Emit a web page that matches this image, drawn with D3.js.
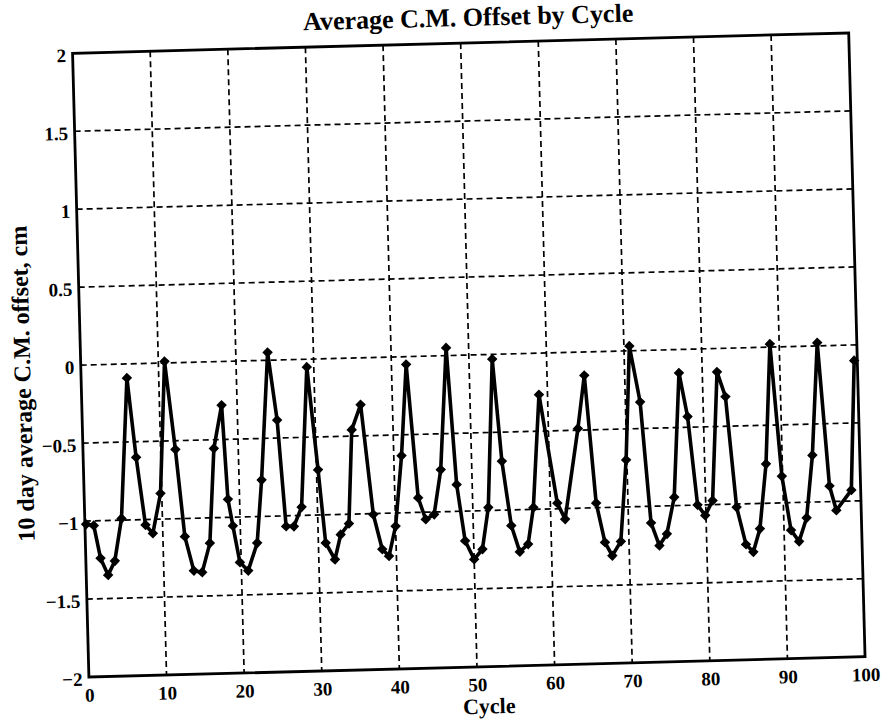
<!DOCTYPE html>
<html>
<head>
<meta charset="utf-8">
<script src="https://cdn.jsdelivr.net/npm/d3@7"></script>
<style>
  html, body { margin: 0; padding: 0; background: #fff; }
  svg { display: block; }
  text { font-family: "Liberation Serif", "DejaVu Serif", serif; fill: #000; }
</style>
</head>
<body>
<svg id="chart" width="887" height="728"></svg>
<script>
// ---- data ----
const cycles = [0.15,1.14,1.9,2.82,3.73,4.73,5.9,6.82,7.8,8.72,
  9.84,10.8,11.9,12.83,13.87,14.94,16.03,16.86,18.0,18.5,
  19.05,19.83,20.87,22.12,22.9,24.1,25.1,25.9,26.9,27.96,
  29.1,30.2,30.94,32.08,32.9,34.0,34.67,35.9,37.17,38.2,
  39.05,40.0,41.0,41.9,43.0,43.9,45.0,46.0,47.1,48.0,
  48.9,50.0,51.1,52.0,53.0,53.9,54.9,55.9,57.0,57.8,
  58.9,60.9,61.85,63.8,64.8,65.9,66.9,67.8,68.95,69.9,
  70.7,71.9,72.9,73.9,74.9,75.97,77.0,77.96,78.95,79.9,
  80.9,81.9,82.9,83.97,85.05,85.97,86.9,87.9,88.8,89.9,
  90.9,91.9,92.95,93.9,94.9,96.0,96.8,98.8,99.6];
const offsets = [-1.02,-1.03,-1.24,-1.35,-1.26,-0.99,-0.09,-0.60,-1.035,-1.09,
  -0.835,0.01,-0.556,-1.116,-1.336,-1.348,-1.162,-0.556,-0.28,-0.884,
  -1.055,-1.29,-1.345,-1.169,-0.766,0.05,-0.385,-1.067,-1.069,-0.946,
  -0.05,-0.71,-1.18,-1.288,-1.129,-1.06,-0.46,-0.30,-1.006,-1.23,
  -1.275,-1.085,-0.634,-0.05,-0.907,-1.046,-1.016,-0.73,0.05,-0.828,
  -1.19,-1.31,-1.247,-0.98,-0.03,-0.686,-1.10,-1.27,-1.222,-0.988,
  -0.266,-0.964,-1.068,-0.49,-0.15,-0.97,-1.223,-1.31,-1.22,-0.699,
  0.03,-0.33,-1.107,-1.253,-1.18,-0.946,-0.15,-0.431,-0.999,-1.068,
  -0.974,-0.15,-0.31,-1.02,-1.26,-1.31,-1.162,-0.748,0.02,-0.829,
  -1.177,-1.25,-1.10,-0.70,0.02,-0.90,-1.057,-0.93,-0.10];
const xTicks = [0,10,20,30,40,50,60,70,80,90,100];
const yTicks = [-2,-1.5,-1,-0.5,0,0.5,1,1.5,2];
const titleText = "Average C.M. Offset by Cycle";
const xLabelText = "Cycle";
const yLabelText = "10 day average C.M. offset, cm";

// ---- layout ----
const L = 80.6, R = 857, T = 43, B = 667;
const svg = d3.select("#chart");
const g = svg.append("g").attr("transform", "rotate(-1.5, 468.75, 354.9)");

const x = d3.scaleLinear().domain([0, 100]).range([L, R]);
const y = d3.scaleLinear().domain([-2, 2]).range([B, T]);

// grid
const grid = g.append("g").attr("stroke", "#000").attr("stroke-width", 1.7)
  .attr("stroke-dasharray", "6,4").attr("fill", "none");
grid.selectAll("line.v").data(xTicks.filter(d => d > 0 && d < 100)).join("line")
  .attr("class", "v")
  .attr("x1", d => x(d)).attr("x2", d => x(d)).attr("y1", T).attr("y2", B);
grid.selectAll("line.h").data(yTicks.filter(d => d > -2 && d < 2)).join("line")
  .attr("class", "h")
  .attr("x1", L).attr("x2", R).attr("y1", d => y(d)).attr("y2", d => y(d));

// axes (labels)
const fmt = d => (d < 0 ? "\u2212" : "") + String(Math.abs(d));
const xAxis = g.append("g").attr("transform", `translate(0,${B})`)
  .call(d3.axisBottom(x).tickValues(xTicks).tickSize(0).tickPadding(11).tickFormat(fmt));
const yAxis = g.append("g").attr("transform", `translate(${L},0)`)
  .call(d3.axisLeft(y).tickValues(yTicks).tickSize(0).tickPadding(6.5).tickFormat(fmt));
[xAxis, yAxis].forEach(a => {
  a.select(".domain").remove();
  a.selectAll("text").attr("font-size", 19).attr("font-weight", "bold")
    .attr("font-family", '"Liberation Serif", serif');
});
yAxis.selectAll("text").attr("dy", "0.42em");

// frame
g.append("rect").attr("x", L).attr("y", T).attr("width", R - L).attr("height", B - T)
  .attr("fill", "none").attr("stroke", "#000").attr("stroke-width", 2.8);

// data line
const pts = cycles.map((c, i) => [c, offsets[i]]);
g.append("path").datum(pts)
  .attr("fill", "none").attr("stroke", "#000").attr("stroke-width", 3.6)
  .attr("stroke-linejoin", "round")
  .attr("d", d3.line().x(d => x(d[0])).y(d => y(d[1])));
const sym = d3.symbol().type(d3.symbolSquare).size(55);
g.append("g").selectAll("path").data(pts).join("path")
  .attr("d", sym)
  .attr("transform", d => `translate(${x(d[0])},${y(d[1])}) rotate(45)`)
  .attr("fill", "#000");

// titles
g.append("text").attr("x", 477).attr("y", 26).attr("text-anchor", "middle")
  .attr("font-size", 26).attr("font-weight", "bold").text(titleText);
g.append("text").attr("x", 480).attr("y", 714).attr("text-anchor", "middle")
  .attr("font-size", 22).attr("font-weight", "bold").text(xLabelText);
g.append("text").attr("transform", "translate(30,372) rotate(-90)")
  .attr("text-anchor", "middle").attr("font-size", 24).attr("font-weight", "bold")
  .text(yLabelText);
</script>
</body>
</html>
